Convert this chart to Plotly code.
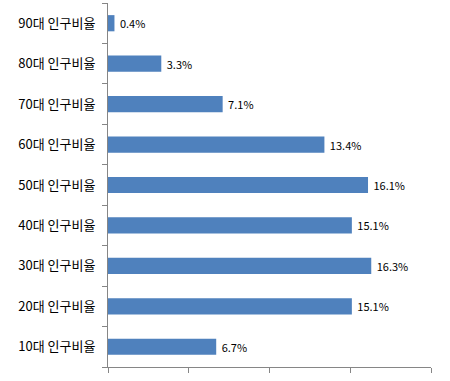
import plotly.graph_objects as go

categories = ["10대 인구비율", "20대 인구비율", "30대 인구비율", "40대 인구비율", "50대 인구비율",
              "60대 인구비율", "70대 인구비율", "80대 인구비율", "90대 인구비율"]
values = [6.7, 15.1, 16.3, 15.1, 16.1, 13.4, 7.1, 3.3, 0.4]
labels = [f" {v:.1f}%" for v in values]

fig = go.Figure(go.Bar(
    x=values, y=categories, orientation="h",
    marker=dict(color="#4F81BD", line=dict(width=0)),
    text=labels, textposition="outside", cliponaxis=False,
    textfont=dict(family="Noto Sans CJK KR", size=11, color="#000000"),
    width=0.4,
))

fig.update_layout(
    width=450, height=381,
    margin=dict(l=108, r=19, t=3, b=14, autoexpand=False),
    paper_bgcolor="white", plot_bgcolor="white",
    showlegend=False,
    font=dict(family="Noto Sans CJK KR", size=12, color="#000000"),
)
fig.update_xaxes(range=[0, 20], dtick=5, tick0=0, showticklabels=False, automargin=False,
                 showgrid=False, zeroline=False, showline=True, linecolor="#868686",
                 linewidth=1, ticks="outside", ticklen=5, tickcolor="#868686")
fig.update_yaxes(showgrid=False, zeroline=False, showline=True, linecolor="#868686",
                 linewidth=1, ticks="outside", ticklen=5, tickcolor="#868686", automargin=False,
                 tickson="boundaries", tickfont=dict(size=13, color="#000000"),
                 ticklabelstandoff=9)

fig.write_html("out.html", config={"displayModeBar": False},
               post_script="document.body.style.margin='0';")
